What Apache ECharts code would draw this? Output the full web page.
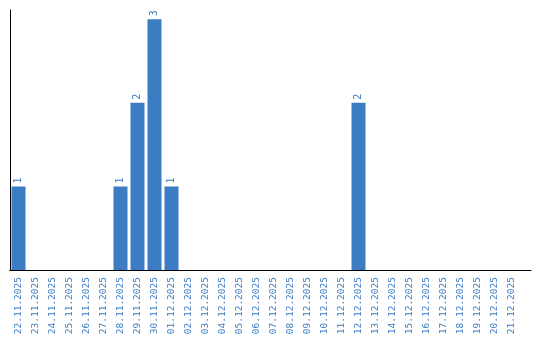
<!DOCTYPE html>
<html>
<head>
<meta charset="utf-8">
<script src="https://cdn.jsdelivr.net/npm/echarts@6/dist/echarts.min.js"></script>
<style>html,body{margin:0;padding:0;background:#fff;}#c{width:540px;height:340px;}</style>
</head>
<body>
<div id="c"></div>
<script>
const categories = ["22.11.2025","23.11.2025","24.11.2025","25.11.2025","26.11.2025","27.11.2025","28.11.2025","29.11.2025","30.11.2025","01.12.2025","02.12.2025","03.12.2025","04.12.2025","05.12.2025","06.12.2025","07.12.2025","08.12.2025","09.12.2025","10.12.2025","11.12.2025","12.12.2025","13.12.2025","14.12.2025","15.12.2025","16.12.2025","17.12.2025","18.12.2025","19.12.2025","20.12.2025","21.12.2025"];
const counts = [1,0,0,0,0,0,1,2,3,1,0,0,0,0,0,0,0,0,0,0,2,0,0,0,0,0,0,0,0,0];

const blue = '#3b7cc3';
const chart = echarts.init(document.getElementById('c'));
chart.setOption({
  animation: false,
  grid: [
    {left: 10, top: 10, width: 510, height: 260},
    {left: 10, top: 10, width: 521, height: 260}
  ],
  xAxis: [
    {
      type: 'category', gridIndex: 0, data: categories,
      axisLine: {lineStyle: {color: '#000', width: 1}},
      axisTick: {show: false},
      axisLabel: {rotate: 90, color: blue, fontFamily: 'DejaVu Sans Mono', fontSize: 9.5, margin: 7, interval: 0}
    },
    {
      type: 'value', gridIndex: 1, min: 0, max: 1,
      axisLine: {show: true, lineStyle: {color: '#000', width: 1}},
      axisTick: {show: false}, axisLabel: {show: false}, splitLine: {show: false}
    }
  ],
  yAxis: [
    {
      type: 'value', gridIndex: 0, min: 0, max: 3.11,
      axisLine: {show: true, lineStyle: {color: '#000', width: 1}},
      axisTick: {show: false}, axisLabel: {show: false}, splitLine: {show: false}
    },
    {
      type: 'value', gridIndex: 1, min: 0, max: 1, show: false
    }
  ],
  series: [{
    type: 'bar', xAxisIndex: 0, yAxisIndex: 0,
    data: counts.map(v => v === 0 ? null : v),
    barWidth: 14,
    itemStyle: {color: blue},
    label: {
      show: true, position: 'top', rotate: 90, align: 'left', verticalAlign: 'middle',
      distance: 3, color: blue, fontFamily: 'DejaVu Sans Mono', fontSize: 10
    }
  }]
});
</script>
</body>
</html>
